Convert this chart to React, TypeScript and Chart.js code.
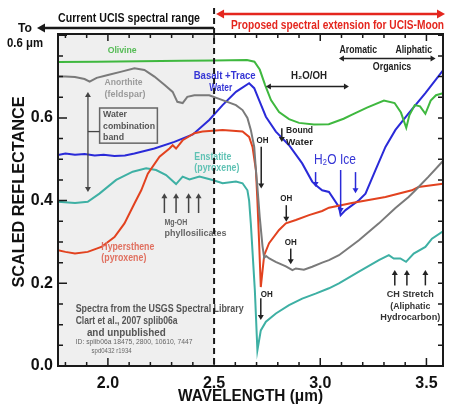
import React, { useEffect, useRef } from "react";
import { Chart, registerables } from "chart.js";

Chart.register(...registerables);

// ---------- axis ranges & ticks ----------
const X_MIN = 1.765;
const X_MAX = 3.578;
const Y_MIN = 0;
const Y_MAX = 0.803;
const BOUNDARY_WL = 2.5;
const xTickValues = [2.0, 2.5, 3.0, 3.5];
const yTickValues = [0.0, 0.2, 0.4, 0.6];

// ---------- spectra (wavelength µm, scaled reflectance) ----------
const olivineWl = [1.765, 1.95, 2.15, 2.35, 2.5, 2.655, 2.69, 2.715, 2.74, 2.768, 2.806, 2.853, 2.9, 2.97, 3.04, 3.11, 3.15, 3.22, 3.3, 3.35, 3.38, 3.405, 3.42, 3.445, 3.47, 3.495, 3.52, 3.545, 3.578];
const olivineRf = [0.735, 0.736, 0.737, 0.738, 0.739, 0.74, 0.736, 0.717, 0.68, 0.643, 0.614, 0.597, 0.588, 0.584, 0.585, 0.598, 0.608, 0.625, 0.642, 0.636, 0.613, 0.576, 0.607, 0.631, 0.628, 0.61, 0.642, 0.655, 0.66];

const anorthiteWl = [1.765, 1.8, 1.845, 1.89, 1.914, 1.947, 2.0, 2.064, 2.125, 2.172, 2.219, 2.266, 2.305, 2.327, 2.352, 2.374, 2.407, 2.477, 2.54, 2.603, 2.634, 2.657, 2.673, 2.689, 2.697, 2.704, 2.715, 2.728, 2.736, 2.745, 2.76, 2.79, 2.838, 2.869, 2.885, 2.923, 2.962, 3.009, 3.041, 3.088, 3.182, 3.276, 3.354, 3.416, 3.448, 3.51, 3.578];
const anorthiteRf = [0.7, 0.7, 0.699, 0.694, 0.688, 0.697, 0.704, 0.712, 0.72, 0.716, 0.7, 0.68, 0.663, 0.639, 0.636, 0.651, 0.655, 0.655, 0.643, 0.631, 0.619, 0.6, 0.571, 0.53, 0.474, 0.433, 0.36, 0.29, 0.262, 0.266, 0.26, 0.252, 0.241, 0.232, 0.236, 0.233, 0.24, 0.25, 0.256, 0.268, 0.304, 0.345, 0.382, 0.409, 0.425, 0.458, 0.496];

const hypersWl = [1.765, 1.8, 1.845, 1.905, 1.969, 2.031, 2.078, 2.125, 2.157, 2.188, 2.243, 2.29, 2.305, 2.321, 2.352, 2.407, 2.446, 2.54, 2.634, 2.665, 2.681, 2.697, 2.704, 2.712, 2.72, 2.736, 2.759, 2.806, 2.838, 2.885, 2.947, 3.009, 3.041, 3.149, 3.307, 3.431, 3.463, 3.578];
const hypersRf = [0.28, 0.276, 0.272, 0.276, 0.288, 0.312, 0.345, 0.393, 0.425, 0.465, 0.506, 0.526, 0.534, 0.526, 0.546, 0.563, 0.567, 0.571, 0.567, 0.554, 0.53, 0.474, 0.4, 0.3, 0.191, 0.268, 0.297, 0.329, 0.345, 0.353, 0.365, 0.375, 0.383, 0.394, 0.409, 0.425, 0.433, 0.441];

const enstatiteWl = [1.765, 1.845, 1.905, 1.96, 2.039, 2.117, 2.18, 2.227, 2.274, 2.321, 2.352, 2.384, 2.431, 2.493, 2.54, 2.603, 2.634, 2.657, 2.665, 2.673, 2.692, 2.704, 2.72, 2.744, 2.791, 2.853, 2.915, 2.978, 3.041, 3.088, 3.182, 3.276, 3.323, 3.346, 3.377, 3.404, 3.44, 3.495, 3.526, 3.578];
const enstatiteRf = [0.397, 0.394, 0.397, 0.417, 0.45, 0.47, 0.478, 0.474, 0.462, 0.44, 0.458, 0.451, 0.458, 0.45, 0.442, 0.446, 0.442, 0.425, 0.4, 0.345, 0.183, 0.038, 0.086, 0.107, 0.127, 0.147, 0.163, 0.175, 0.188, 0.2, 0.228, 0.256, 0.268, 0.26, 0.26, 0.252, 0.272, 0.288, 0.308, 0.326];

const basaltWl = [1.765, 1.8, 1.845, 1.89, 1.938, 1.98, 2.031, 2.08, 2.125, 2.219, 2.313, 2.4, 2.477, 2.54, 2.603, 2.665, 2.689, 2.712, 2.744, 2.791, 2.853, 2.915, 2.962, 2.978, 3.009, 3.041, 3.088, 3.096, 3.119, 3.182, 3.213, 3.26, 3.307, 3.354, 3.416, 3.495, 3.578];
const basaltRf = [0.51, 0.514, 0.511, 0.513, 0.509, 0.511, 0.508, 0.509, 0.514, 0.526, 0.542, 0.56, 0.595, 0.631, 0.663, 0.684, 0.672, 0.643, 0.603, 0.567, 0.534, 0.49, 0.446, 0.438, 0.425, 0.421, 0.385, 0.365, 0.377, 0.401, 0.417, 0.474, 0.53, 0.571, 0.611, 0.66, 0.715];

// ---------- colours ----------
const C_OLIVINE = "#3fb83f";
const C_ANORTH = "#7a7a7a";
const C_HYPERS = "#e2421f";
const C_ENSTAT = "#3eb0a4";
const C_BASALT = "#2a2ad8";
const C_BLUE_TXT = "#3535d5";
const C_AXIS = "#1a1a1a";
const C_SHADE = "#efefef";
const C_RED_TOP = "#e4261e";

// ---------- annotations (data coordinates) ----------
type Lbl = { t: string; x: number; y: number; size: number; color: string; align: "left" | "center"; w: number; weight?: string };
const labels: Lbl[] = [
  { t: "Olivine", x: 2.067, y: 0.763, size: 9.5, color: "#55bb55", align: "center", w: 29 },
  { t: "Anorthite", x: 1.984, y: 0.685, size: 9.5, color: "#9a9a9a", align: "left", w: 38 },
  { t: "(feldspar)", x: 1.984, y: 0.658, size: 9.5, color: "#9a9a9a", align: "left", w: 41 },
  { t: "Water", x: 1.977, y: 0.609, size: 9.5, color: "#555555", align: "left", w: 24 },
  { t: "combination", x: 1.977, y: 0.58, size: 9.5, color: "#555555", align: "left", w: 52 },
  { t: "band", x: 1.977, y: 0.553, size: 9.5, color: "#555555", align: "left", w: 21 },
  { t: "Basalt +Trace", x: 2.404, y: 0.7, size: 10, color: C_BLUE_TXT, align: "left", w: 62 },
  { t: "Water", x: 2.477, y: 0.672, size: 10, color: C_BLUE_TXT, align: "left", w: 23 },
  { t: "Enstatite", x: 2.407, y: 0.505, size: 10, color: "#5fc2b4", align: "left", w: 37 },
  { t: "(pyroxene)", x: 2.407, y: 0.478, size: 10, color: "#5fc2b4", align: "left", w: 45 },
  { t: "Hypersthene", x: 1.969, y: 0.288, size: 10, color: "#e07060", align: "left", w: 53 },
  { t: "(pyroxene)", x: 1.969, y: 0.26, size: 10, color: "#e07060", align: "left", w: 45 },
  { t: "Mg-OH", x: 2.266, y: 0.348, size: 9.5, color: "#666666", align: "left", w: 23 },
  { t: "phyllosilicates", x: 2.266, y: 0.321, size: 9.5, color: "#666666", align: "left", w: 62 },
  { t: "Spectra from the USGS Spectral Library", x: 1.848, y: 0.137, size: 10, color: "#555555", align: "left", w: 168 },
  { t: "Clart et al., 2007 splib06a", x: 1.848, y: 0.109, size: 10, color: "#555555", align: "left", w: 102 },
  { t: "and unpublished", x: 1.901, y: 0.08, size: 10, color: "#555555", align: "left", w: 79 },
  { t: "ID: splib06a 18475, 2800, 10610, 7447", x: 1.848, y: 0.058, size: 6.5, color: "#666666", align: "left", w: 117, weight: "normal" },
  { t: "spd0432 r1934", x: 1.923, y: 0.036, size: 6.5, color: "#666666", align: "left", w: 40, weight: "normal" },
  { t: "H\u2082O/OH", x: 2.947, y: 0.701, size: 10, color: "#222222", align: "center", w: 36 },
  { t: "Aromatic", x: 3.091, y: 0.763, size: 10, color: "#222222", align: "left", w: 37.5 },
  { t: "Aliphatic", x: 3.354, y: 0.763, size: 10, color: "#222222", align: "left", w: 36.5 },
  { t: "Organics", x: 3.338, y: 0.7225, size: 10, color: "#222222", align: "center", w: 38.5 },
  { t: "OH", x: 2.728, y: 0.5465, size: 9.5, color: "#222222", align: "center", w: 12 },
  { t: "Bound", x: 2.839, y: 0.569, size: 9.5, color: "#222222", align: "left", w: 27 },
  { t: "Water", x: 2.839, y: 0.54, size: 9.5, color: "#222222", align: "left", w: 27 },
  { t: "H\u2082O Ice", x: 3.069, y: 0.498, size: 15, color: C_BLUE_TXT, align: "center", w: 42, weight: "normal" },
  { t: "OH", x: 2.84, y: 0.405, size: 9.5, color: "#222222", align: "center", w: 12 },
  { t: "OH", x: 2.861, y: 0.298, size: 9.5, color: "#222222", align: "center", w: 12 },
  { t: "OH", x: 2.72, y: 0.174, size: 9.5, color: "#222222", align: "left", w: 12 },
  { t: "CH Stretch", x: 3.424, y: 0.173, size: 9.5, color: "#333333", align: "center", w: 47 },
  { t: "(Aliphatic", x: 3.424, y: 0.1445, size: 9.5, color: "#333333", align: "center", w: 40 },
  { t: "Hydrocarbon)", x: 3.424, y: 0.117, size: 9.5, color: "#333333", align: "center", w: 60 },
];

type Arr = { x1: number; y1: number; x2: number; y2: number; color: string; kind: "line" | "arrow" | "double"; lw?: number };
const arrows: Arr[] = [
  { x1: 1.906, y1: 0.421, x2: 1.906, y2: 0.663, color: "#444444", kind: "double", lw: 1.3 },
  { x1: 1.906, y1: 0.567, x2: 1.961, y2: 0.567, color: "#444444", kind: "line", lw: 1.3 },
  { x1: 2.266, y1: 0.37, x2: 2.266, y2: 0.418, color: "#444444", kind: "arrow" },
  { x1: 2.321, y1: 0.37, x2: 2.321, y2: 0.418, color: "#444444", kind: "arrow" },
  { x1: 2.38, y1: 0.37, x2: 2.38, y2: 0.418, color: "#444444", kind: "arrow" },
  { x1: 2.427, y1: 0.37, x2: 2.427, y2: 0.418, color: "#444444", kind: "arrow" },
  { x1: 2.744, y1: 0.676, x2: 3.135, y2: 0.676, color: "#222222", kind: "double" },
  { x1: 3.088, y1: 0.744, x2: 3.543, y2: 0.744, color: "#222222", kind: "double" },
  { x1: 2.722, y1: 0.53, x2: 2.722, y2: 0.4295, color: "#222222", kind: "arrow" },
  { x1: 2.819, y1: 0.575, x2: 2.819, y2: 0.542, color: "#222222", kind: "arrow" },
  { x1: 2.978, y1: 0.469, x2: 2.978, y2: 0.433, color: C_BASALT, kind: "arrow" },
  { x1: 3.096, y1: 0.474, x2: 3.096, y2: 0.37, color: C_BASALT, kind: "arrow" },
  { x1: 3.166, y1: 0.469, x2: 3.166, y2: 0.418, color: C_BASALT, kind: "arrow" },
  { x1: 2.84, y1: 0.389, x2: 2.84, y2: 0.349, color: "#222222", kind: "arrow" },
  { x1: 2.861, y1: 0.284, x2: 2.861, y2: 0.246, color: "#222222", kind: "arrow" },
  { x1: 2.72, y1: 0.164, x2: 2.72, y2: 0.111, color: "#222222", kind: "arrow" },
  { x1: 3.351, y1: 0.195, x2: 3.351, y2: 0.232, color: "#222222", kind: "arrow" },
  { x1: 3.408, y1: 0.195, x2: 3.408, y2: 0.232, color: "#222222", kind: "arrow" },
  { x1: 3.495, y1: 0.195, x2: 3.495, y2: 0.232, color: "#222222", kind: "arrow" },
];

const boxWl = [1.961, 2.233];
const boxRf = [0.624, 0.539];

const FONT = "'Liberation Sans', Arial, Helvetica, sans-serif";

function drawText(ctx: CanvasRenderingContext2D, s: string, px: number, py: number, size: number, color: string, align: string, w?: number, weight = "bold") {
  ctx.save();
  ctx.font = `${weight} ${size}px ${FONT}`;
  ctx.fillStyle = color;
  ctx.textBaseline = "middle";
  ctx.textAlign = "left";
  const m = ctx.measureText(s).width;
  const sx = w ? w / m : 1;
  const tw = m * sx;
  const left = align === "left" ? px : align === "center" ? px - tw / 2 : px - tw;
  ctx.translate(left, py);
  ctx.scale(sx, 1);
  ctx.fillText(s, 0, 0);
  ctx.restore();
}

function head(ctx: CanvasRenderingContext2D, x: number, y: number, ang: number, len: number, hw: number) {
  const c = Math.cos(ang), s = Math.sin(ang);
  ctx.beginPath();
  ctx.moveTo(x, y);
  ctx.lineTo(x - len * c + hw * s, y - len * s - hw * c);
  ctx.lineTo(x - len * c - hw * s, y - len * s + hw * c);
  ctx.closePath();
  ctx.fill();
}

function drawArrow(ctx: CanvasRenderingContext2D, x1: number, y1: number, x2: number, y2: number, color: string, kind: string, lw = 1.5, len = 5, hw = 3) {
  ctx.save();
  ctx.strokeStyle = color;
  ctx.fillStyle = color;
  ctx.lineWidth = lw;
  const ang = Math.atan2(y2 - y1, x2 - x1);
  const c = Math.cos(ang), s = Math.sin(ang);
  let sx = x1, sy = y1, ex = x2, ey = y2;
  if (kind !== "line") { ex = x2 - c * (len - 1); ey = y2 - s * (len - 1); }
  if (kind === "double") { sx = x1 + c * (len - 1); sy = y1 + s * (len - 1); }
  ctx.beginPath();
  ctx.moveTo(sx, sy);
  ctx.lineTo(ex, ey);
  ctx.stroke();
  if (kind !== "line") head(ctx, x2, y2, ang, len, hw);
  if (kind === "double") head(ctx, x1, y1, ang + Math.PI, len, hw);
  ctx.restore();
}

const overlayPlugin = {
  id: "overlay",
  beforeDatasetsDraw(chart: any) {
    const { ctx, chartArea: a, scales } = chart;
    const xb = scales.x.getPixelForValue(BOUNDARY_WL);
    ctx.save();
    ctx.fillStyle = C_SHADE;
    ctx.fillRect(a.left, a.top, xb - a.left, a.bottom - a.top);
    ctx.restore();
  },
  afterDatasetsDraw(chart: any) {
    const { ctx, chartArea: a, scales } = chart;
    const xs = scales.x, ys = scales.y;
    const X = (v: number) => xs.getPixelForValue(v);
    const Y = (v: number) => ys.getPixelForValue(v);
    const xb = X(BOUNDARY_WL);

    // box around "Water combination band"
    ctx.save();
    ctx.strokeStyle = "#666666";
    ctx.lineWidth = 1.5;
    ctx.strokeRect(X(boxWl[0]), Y(boxRf[0]), X(boxWl[1]) - X(boxWl[0]), Y(boxRf[1]) - Y(boxRf[0]));
    ctx.restore();

    for (const ar of arrows) {
      drawArrow(ctx, X(ar.x1), Y(ar.y1), X(ar.x2), Y(ar.y2), ar.color, ar.kind, ar.lw ?? 1.5);
    }
    for (const l of labels) {
      drawText(ctx, l.t, X(l.x), Y(l.y), l.size, l.color, l.align, l.w, l.weight ?? "bold");
    }

    // frame
    ctx.save();
    ctx.strokeStyle = C_AXIS;
    ctx.lineWidth = 2;
    ctx.strokeRect(a.left, a.top, a.right - a.left, a.bottom - a.top);
    // ticks
    ctx.lineWidth = 1.5;
    ctx.beginPath();
    for (let i = 0; i * 0.05 <= Y_MAX + 1e-9; i++) {
      const v = i * 0.05;
      const py = Y(v);
      const major = i % 4 === 0;
      ctx.moveTo(a.left, py); ctx.lineTo(a.left + (major ? 9 : 5), py);
      ctx.moveTo(a.right, py); ctx.lineTo(a.right - 5, py);
    }
    for (let i = 18; i <= 35; i++) {
      const v = i / 10;
      if (v < X_MIN || v > X_MAX) continue;
      const px = X(v);
      const major = i % 5 === 0;
      ctx.moveTo(px, a.bottom); ctx.lineTo(px, a.bottom - (major ? 8 : 4));
      ctx.moveTo(px, a.top); ctx.lineTo(px, a.top + (major ? 7 : 4));
    }
    ctx.stroke();
    ctx.restore();
  },
  afterDraw(chart: any) {
    const { ctx, chartArea: a, scales } = chart;
    const xb = scales.x.getPixelForValue(BOUNDARY_WL);

    // dashed boundary line
    ctx.save();
    ctx.strokeStyle = C_AXIS;
    ctx.lineWidth = 2;
    ctx.setLineDash([6, 4]);
    ctx.beginPath();
    ctx.moveTo(xb, a.top - 26);
    ctx.lineTo(xb, a.bottom);
    ctx.stroke();
    ctx.restore();

    // header arrows & texts
    drawArrow(ctx, xb, a.top - 6, 37, a.top - 6, C_AXIS, "arrow", 2.5, 8, 4.5);
    drawArrow(ctx, xb + 2, a.top - 20, a.right + 2, a.top - 20, C_RED_TOP, "double", 2.5, 8, 4.5);
    drawText(ctx, "Current UCIS spectral range", a.left, a.top - 16, 13, "#111111", "left", 142);
    drawText(ctx, "Proposed spectral extension for UCIS-Moon", xb + 17, a.top - 9, 13, C_RED_TOP, "left", 213);
    drawText(ctx, "To", 18, a.top - 6, 13, "#111111", "left", 14);
    drawText(ctx, "0.6 \u03bcm", 7, a.top + 9, 13, "#111111", "left", 36);

    // axis titles
    ctx.save();
    ctx.translate(20, 192);
    ctx.rotate(-Math.PI / 2);
    drawText(ctx, "SCALED REFLECTANCE", 0, 0, 16, "#111111", "center", 191);
    ctx.restore();
    drawText(ctx, "WAVELENGTH (\u03bcm)", (a.left + a.right) / 2, a.bottom + 31, 16, "#111111", "center", 145);
  },
};

function series(wl: number[], rf: number[]) {
  return wl.map((w, i) => ({ x: w, y: rf[i] }));
}

export default function App() {
  const ref = useRef<HTMLCanvasElement>(null);
  useEffect(() => {
    document.body.style.margin = "0";
    const canvas = ref.current!;
    const mk = (data: any, color: string) => ({
      data, borderColor: color, backgroundColor: color, borderWidth: 2,
      pointRadius: 0, tension: 0, fill: false,
    });
    const chart = new Chart(canvas, {
      type: "line",
      data: {
        datasets: [
          { label: "Olivine", ...mk(series(olivineWl, olivineRf), C_OLIVINE) },
          { label: "Anorthite (feldspar)", ...mk(series(anorthiteWl, anorthiteRf), C_ANORTH) },
          { label: "Hypersthene (pyroxene)", ...mk(series(hypersWl, hypersRf), C_HYPERS) },
          { label: "Enstatite (pyroxene)", ...mk(series(enstatiteWl, enstatiteRf), C_ENSTAT) },
          { label: "Basalt + Trace Water", ...mk(series(basaltWl, basaltRf), C_BASALT) },
        ] as any,
      },
      options: {
        responsive: false,
        animation: false,
        devicePixelRatio: 1,
        layout: { padding: { left: 0, top: 34, right: 13, bottom: 0 } },
        plugins: { legend: { display: false }, tooltip: { enabled: false } },
        scales: {
          x: {
            type: "linear",
            min: X_MIN,
            max: X_MAX,
            grid: { display: false, drawTicks: false },
            border: { display: false },
            afterBuildTicks: (s: any) => { s.ticks = xTickValues.map((v) => ({ value: v })); },
            afterFit: (s: any) => { s.height = 40; },
            ticks: {
              padding: 8,
              color: "#111111",
              font: { family: FONT, size: 16, weight: "bold" },
              callback: (v: any) => Number(v).toFixed(1),
              maxRotation: 0,
            },
          },
          y: {
            type: "linear",
            min: Y_MIN,
            max: Y_MAX,
            grid: { display: false, drawTicks: false },
            border: { display: false },
            afterBuildTicks: (s: any) => { s.ticks = yTickValues.map((v) => ({ value: v })); },
            afterFit: (s: any) => { s.width = 58; },
            ticks: {
              padding: 5,
              color: "#111111",
              font: { family: FONT, size: 16, weight: "bold" },
              callback: (v: any) => Number(v).toFixed(1),
            },
          },
        },
      } as any,
      plugins: [overlayPlugin],
    });
    return () => chart.destroy();
  }, []);
  return (
    <div style={{ width: 456, height: 406 }}>
      <canvas ref={ref} width={456} height={406} style={{ display: "block" }} />
    </div>
  );
}
